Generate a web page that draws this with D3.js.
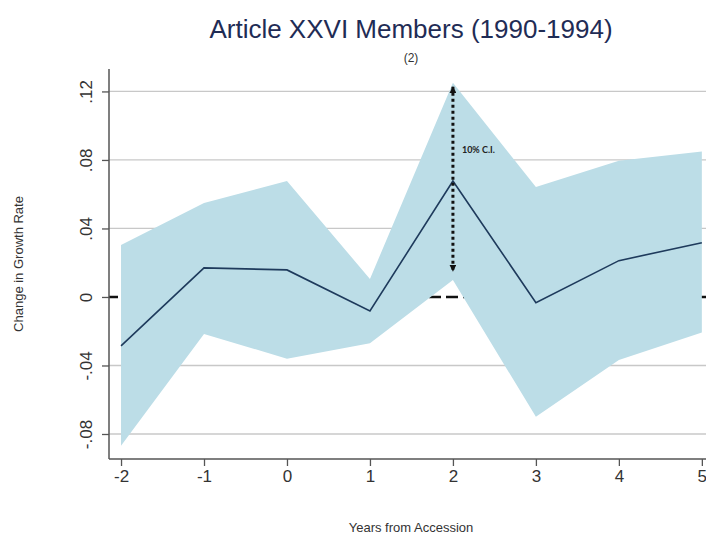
<!DOCTYPE html>
<html>
<head>
<meta charset="utf-8">
<script src="https://cdn.jsdelivr.net/npm/d3@7"></script>
<style>
  body { margin: 0; background: #fff; }
  svg text { font-family: "Liberation Sans", Arial, sans-serif; }
</style>
</head>
<body>
<script>
// data
let years = [-2, -1, 0, 1, 2, 3, 4, 5];
let estimate = [-0.0286, 0.0170, 0.0158, -0.0082, 0.0677, -0.0033, 0.0212, 0.0317];
let upper = [0.0304, 0.0549, 0.0677, 0.0105, 0.1250, 0.0642, 0.0796, 0.0849];
let lower = [-0.0868, -0.0216, -0.0360, -0.0270, 0.0099, -0.0700, -0.0368, -0.0208];
let yTicks = [-0.08, -0.04, 0, 0.04, 0.08, 0.12];
let yTickLabels = ["-.08", "-.04", "0", ".04", ".08", ".12"];
let ciYear = 2;
let ciLabel = "10% C.I.";

let width = 706, height = 535;

let svg = d3.select("body").append("svg")
  .attr("width", width)
  .attr("height", height);

let x = d3.scaleLinear().domain([-2.145, 5.05]).range([109, 706]);
let y = d3.scaleLinear().domain([-0.0946, 0.1331]).range([459, 69]);

let rows = years.map((d, i) => ({yr: d, est: estimate[i], hi: upper[i], lo: lower[i]}));

// grid lines
svg.append("g")
  .selectAll("line")
  .data(yTicks.filter(d => d !== 0))
  .enter().append("line")
  .attr("x1", 109).attr("x2", 706)
  .attr("y1", d => y(d)).attr("y2", d => y(d))
  .attr("stroke", "#c8c8c8")
  .attr("stroke-width", 1.3);

// zero reference line
svg.append("line")
  .attr("x1", 109).attr("x2", 706)
  .attr("y1", y(0)).attr("y2", y(0))
  .attr("stroke", "#111")
  .attr("stroke-width", 2.6)
  .attr("stroke-dasharray", "12,5")
  .attr("stroke-dashoffset", 3);

// confidence band
svg.append("path")
  .datum(rows)
  .attr("fill", "#bcdde7")
  .attr("d", d3.area().x(d => x(d.yr)).y0(d => y(d.lo)).y1(d => y(d.hi)));

// point estimate
svg.append("path")
  .datum(rows)
  .attr("fill", "none")
  .attr("stroke", "#1e3a5c")
  .attr("stroke-width", 1.6)
  .attr("d", d3.line().x(d => x(d.yr)).y(d => y(d.est)));

// CI annotation arrow
let defs = svg.append("defs");
defs.append("marker")
  .attr("id", "ah")
  .attr("viewBox", "0 0 10 10")
  .attr("refX", 9).attr("refY", 5)
  .attr("markerWidth", 7).attr("markerHeight", 7)
  .attr("markerUnits", "userSpaceOnUse")
  .attr("orient", "auto-start-reverse")
  .append("path")
  .attr("d", "M0,0L10,5L0,10z")
  .attr("fill", "#111");

let ci = rows.find(d => d.yr === ciYear);
svg.append("line")
  .attr("x1", x(ciYear)).attr("x2", x(ciYear))
  .attr("y1", y(ci.hi) + 4).attr("y2", y(ci.lo) - 9)
  .attr("stroke", "#111")
  .attr("stroke-width", 3)
  .attr("stroke-dasharray", "3,3")
  .attr("marker-start", "url(#ah)")
  .attr("marker-end", "url(#ah)");

svg.append("text")
  .attr("x", x(ciYear) + 9)
  .attr("y", 153)
  .attr("font-size", 9)
  .attr("font-weight", "bold")
  .attr("fill", "#222")
  .style("font-family", "Lato, 'Open Sans', sans-serif")
  .text(ciLabel);

// axes
let yAxis = svg.append("g")
  .attr("transform", "translate(109,0)")
  .call(d3.axisLeft(y).tickValues(yTicks).tickFormat((d, i) => yTickLabels[i]).tickSize(7).tickPadding(5));
yAxis.select(".domain").attr("d", "M0,69V459").attr("stroke", "#555").attr("stroke-width", 1.5);
yAxis.selectAll(".tick line").attr("stroke", "#555").attr("stroke-width", 1.3);
yAxis.selectAll(".tick text")
  .attr("font-size", 17)
  .attr("fill", "#333")
  .attr("text-anchor", "middle")
  .attr("transform", function () {
    let t = d3.select(this);
    return "rotate(-90," + t.attr("x") + ",0) translate(0,-5)";
  })
  .attr("dy", "0");

let xAxis = svg.append("g")
  .attr("transform", "translate(0,459)")
  .call(d3.axisBottom(x).tickValues(years).tickFormat(d => String(d)).tickSize(7).tickPadding(4));
xAxis.select(".domain").attr("d", "M109,0H706").attr("stroke", "#555").attr("stroke-width", 1.5);
xAxis.selectAll(".tick line").attr("stroke", "#555").attr("stroke-width", 1.3);
xAxis.selectAll(".tick text").attr("font-size", 17).attr("fill", "#333");

// titles
svg.append("text")
  .attr("x", 411).attr("y", 38)
  .attr("text-anchor", "middle")
  .attr("font-size", 26)
  .attr("fill", "#1f2c55")
  .text("Article XXVI Members (1990-1994)");

svg.append("text")
  .attr("x", 411).attr("y", 62)
  .attr("text-anchor", "middle")
  .attr("font-size", 12)
  .attr("fill", "#333")
  .text("(2)");

svg.append("text")
  .attr("x", 411).attr("y", 532)
  .attr("text-anchor", "middle")
  .attr("font-size", 13)
  .attr("fill", "#333")
  .text("Years from Accession");

svg.append("text")
  .attr("transform", "translate(23,264) rotate(-90)")
  .attr("text-anchor", "middle")
  .attr("font-size", 13)
  .attr("fill", "#333")
  .text("Change in Growth Rate");
</script>
</body>
</html>
